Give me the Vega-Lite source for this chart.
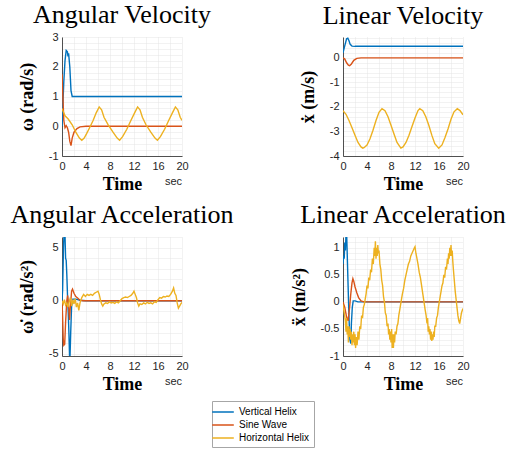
{
  "$schema": "https://vega.github.io/schema/vega-lite/v6.json",
  "padding": {"left": 9, "top": 2, "right": 5, "bottom": 5},
  "background": "white",
  "config": {
    "view": {"stroke": null},
    "title": {"font": "Liberation Serif", "fontSize": 26, "fontWeight": "normal", "color": "black", "anchor": "middle", "offset": 3},
    "axis": {
      "labelFont": "Liberation Sans", "labelFontSize": 11, "labelColor": "#262626",
      "titleFont": "Liberation Serif", "titleFontWeight": "bold", "titleColor": "black",
      "domainColor": "#262626", "domainWidth": 0.8, "ticks": false, "tickCount": 100,
      "grid": true, "gridColor": "#e4e4e4", "gridDash": [1, 1], "gridWidth": 1,
      "labelOverlap": false, "labelBound": false, "labelFlush": false
    }
  },
  "datasets": {
    "av": [
      {"s":"Vertical Helix","t":0,"v":0},{"s":"Vertical Helix","t":0.3,"v":1.5},{"s":"Vertical Helix","t":0.5,"v":2.2},{"s":"Vertical Helix","t":0.7,"v":2.55},{"s":"Vertical Helix","t":0.9,"v":2.5},{"s":"Vertical Helix","t":1.0,"v":2.35},{"s":"Vertical Helix","t":1.1,"v":2.45},{"s":"Vertical Helix","t":1.3,"v":2.0},{"s":"Vertical Helix","t":1.5,"v":1.2},{"s":"Vertical Helix","t":1.7,"v":1.0},{"s":"Vertical Helix","t":20,"v":1.0},
      {"s":"Sine Wave","t":0,"v":1.75},{"s":"Sine Wave","t":0.15,"v":1.0},{"s":"Sine Wave","t":0.3,"v":0.2},{"s":"Sine Wave","t":0.5,"v":-0.05},{"s":"Sine Wave","t":0.7,"v":0.02},{"s":"Sine Wave","t":0.9,"v":-0.05},{"s":"Sine Wave","t":1.1,"v":-0.2},{"s":"Sine Wave","t":1.3,"v":-0.5},{"s":"Sine Wave","t":1.5,"v":-0.65},{"s":"Sine Wave","t":1.7,"v":-0.4},{"s":"Sine Wave","t":2.0,"v":-0.2},{"s":"Sine Wave","t":2.5,"v":-0.08},{"s":"Sine Wave","t":3,"v":-0.02},{"s":"Sine Wave","t":4,"v":0},{"s":"Sine Wave","t":20,"v":0},
      {"s":"Horizontal Helix","t":0,"v":0.6},{"s":"Horizontal Helix","t":0.5,"v":0.35},{"s":"Horizontal Helix","t":1,"v":0.25},{"s":"Horizontal Helix","t":1.7,"v":0.05},{"s":"Horizontal Helix","t":2.3,"v":-0.2},{"s":"Horizontal Helix","t":2.9,"v":-0.4},{"s":"Horizontal Helix","t":3.3,"v":-0.47},{"s":"Horizontal Helix","t":3.7,"v":-0.4},{"s":"Horizontal Helix","t":4.1,"v":-0.25},{"s":"Horizontal Helix","t":4.6,"v":-0.05},{"s":"Horizontal Helix","t":5.2,"v":0.2},{"s":"Horizontal Helix","t":5.7,"v":0.45},{"s":"Horizontal Helix","t":6.2,"v":0.65},{"s":"Horizontal Helix","t":6.6,"v":0.55},{"s":"Horizontal Helix","t":7.0,"v":0.3},{"s":"Horizontal Helix","t":7.7,"v":0.05},{"s":"Horizontal Helix","t":8.5,"v":-0.2},{"s":"Horizontal Helix","t":9.2,"v":-0.4},{"s":"Horizontal Helix","t":9.6,"v":-0.47},{"s":"Horizontal Helix","t":10.1,"v":-0.35},{"s":"Horizontal Helix","t":10.8,"v":-0.1},{"s":"Horizontal Helix","t":11.5,"v":0.2},{"s":"Horizontal Helix","t":12.1,"v":0.45},{"s":"Horizontal Helix","t":12.6,"v":0.65},{"s":"Horizontal Helix","t":13.0,"v":0.55},{"s":"Horizontal Helix","t":13.4,"v":0.3},{"s":"Horizontal Helix","t":14.0,"v":0.05},{"s":"Horizontal Helix","t":14.8,"v":-0.2},{"s":"Horizontal Helix","t":15.5,"v":-0.4},{"s":"Horizontal Helix","t":15.9,"v":-0.47},{"s":"Horizontal Helix","t":16.4,"v":-0.35},{"s":"Horizontal Helix","t":17.1,"v":-0.1},{"s":"Horizontal Helix","t":17.8,"v":0.2},{"s":"Horizontal Helix","t":18.4,"v":0.45},{"s":"Horizontal Helix","t":18.9,"v":0.65},{"s":"Horizontal Helix","t":19.3,"v":0.55},{"s":"Horizontal Helix","t":19.7,"v":0.3},{"s":"Horizontal Helix","t":20,"v":0.2}
    ],
    "lv": [
      {"s":"Vertical Helix","t":0,"v":0.2},{"s":"Vertical Helix","t":0.3,"v":0.5},{"s":"Vertical Helix","t":0.6,"v":0.78},{"s":"Vertical Helix","t":0.8,"v":0.8},{"s":"Vertical Helix","t":1.0,"v":0.7},{"s":"Vertical Helix","t":1.2,"v":0.55},{"s":"Vertical Helix","t":1.5,"v":0.48},{"s":"Vertical Helix","t":2,"v":0.47},{"s":"Vertical Helix","t":20,"v":0.47},
      {"s":"Sine Wave","t":0,"v":0},{"s":"Sine Wave","t":0.3,"v":-0.05},{"s":"Sine Wave","t":0.6,"v":-0.2},{"s":"Sine Wave","t":0.9,"v":-0.3},{"s":"Sine Wave","t":1.1,"v":-0.32},{"s":"Sine Wave","t":1.4,"v":-0.25},{"s":"Sine Wave","t":1.8,"v":-0.1},{"s":"Sine Wave","t":2.3,"v":-0.02},{"s":"Sine Wave","t":3,"v":0},{"s":"Sine Wave","t":20,"v":0},
      {"s":"Horizontal Helix","t":0,"v":-2.15},{"s":"Horizontal Helix","t":0.5,"v":-2.3},{"s":"Horizontal Helix","t":1.0,"v":-2.55},{"s":"Horizontal Helix","t":1.5,"v":-2.85},{"s":"Horizontal Helix","t":2.0,"v":-3.15},{"s":"Horizontal Helix","t":2.5,"v":-3.45},{"s":"Horizontal Helix","t":3.0,"v":-3.63},{"s":"Horizontal Helix","t":3.3,"v":-3.68},{"s":"Horizontal Helix","t":3.5,"v":-3.66},{"s":"Horizontal Helix","t":4.0,"v":-3.55},{"s":"Horizontal Helix","t":4.5,"v":-3.3},{"s":"Horizontal Helix","t":5.0,"v":-2.95},{"s":"Horizontal Helix","t":5.5,"v":-2.55},{"s":"Horizontal Helix","t":6.0,"v":-2.22},{"s":"Horizontal Helix","t":6.5,"v":-2.07},{"s":"Horizontal Helix","t":7.0,"v":-2.15},{"s":"Horizontal Helix","t":7.5,"v":-2.4},{"s":"Horizontal Helix","t":8.0,"v":-2.75},{"s":"Horizontal Helix","t":8.5,"v":-3.1},{"s":"Horizontal Helix","t":9.0,"v":-3.45},{"s":"Horizontal Helix","t":9.65,"v":-3.68},{"s":"Horizontal Helix","t":10.0,"v":-3.63},{"s":"Horizontal Helix","t":10.5,"v":-3.45},{"s":"Horizontal Helix","t":11.0,"v":-3.15},{"s":"Horizontal Helix","t":11.5,"v":-2.8},{"s":"Horizontal Helix","t":12.0,"v":-2.45},{"s":"Horizontal Helix","t":12.5,"v":-2.15},{"s":"Horizontal Helix","t":12.8,"v":-2.07},{"s":"Horizontal Helix","t":13.3,"v":-2.15},{"s":"Horizontal Helix","t":13.8,"v":-2.4},{"s":"Horizontal Helix","t":14.3,"v":-2.75},{"s":"Horizontal Helix","t":14.8,"v":-3.15},{"s":"Horizontal Helix","t":15.3,"v":-3.5},{"s":"Horizontal Helix","t":15.95,"v":-3.68},{"s":"Horizontal Helix","t":16.5,"v":-3.55},{"s":"Horizontal Helix","t":17.0,"v":-3.25},{"s":"Horizontal Helix","t":17.5,"v":-2.9},{"s":"Horizontal Helix","t":18.0,"v":-2.5},{"s":"Horizontal Helix","t":18.5,"v":-2.2},{"s":"Horizontal Helix","t":19.05,"v":-2.07},{"s":"Horizontal Helix","t":19.5,"v":-2.15},{"s":"Horizontal Helix","t":20.0,"v":-2.32}
    ],
    "aa": [
      {"s":"Vertical Helix","t":0,"v":0},{"s":"Vertical Helix","t":0.1,"v":1},{"s":"Vertical Helix","t":0.25,"v":5},{"s":"Vertical Helix","t":0.35,"v":6.5},{"s":"Vertical Helix","t":0.5,"v":6.2},{"s":"Vertical Helix","t":0.6,"v":4.0},{"s":"Vertical Helix","t":0.7,"v":3.8},{"s":"Vertical Helix","t":0.8,"v":2.5},{"s":"Vertical Helix","t":0.95,"v":0},{"s":"Vertical Helix","t":1.05,"v":-1.2},{"s":"Vertical Helix","t":1.15,"v":-3},{"s":"Vertical Helix","t":1.3,"v":-6},{"s":"Vertical Helix","t":1.45,"v":-3},{"s":"Vertical Helix","t":1.6,"v":-0.5},{"s":"Vertical Helix","t":1.8,"v":0.15},{"s":"Vertical Helix","t":2.3,"v":0.15},{"s":"Vertical Helix","t":3,"v":0.05},{"s":"Vertical Helix","t":4,"v":0},{"s":"Vertical Helix","t":20,"v":0},
      {"s":"Sine Wave","t":0,"v":0},{"s":"Sine Wave","t":0.1,"v":-1.5},{"s":"Sine Wave","t":0.2,"v":-3.5},{"s":"Sine Wave","t":0.3,"v":-4.2},{"s":"Sine Wave","t":0.45,"v":-4.1},{"s":"Sine Wave","t":0.6,"v":-2},{"s":"Sine Wave","t":0.8,"v":0},{"s":"Sine Wave","t":0.95,"v":0.5},{"s":"Sine Wave","t":1.1,"v":-0.5},{"s":"Sine Wave","t":1.25,"v":-1.8},{"s":"Sine Wave","t":1.4,"v":-0.5},{"s":"Sine Wave","t":1.6,"v":0.9},{"s":"Sine Wave","t":1.75,"v":1.1},{"s":"Sine Wave","t":2.0,"v":0.7},{"s":"Sine Wave","t":2.3,"v":0.4},{"s":"Sine Wave","t":2.6,"v":0.25},{"s":"Sine Wave","t":3.0,"v":0.05},{"s":"Sine Wave","t":3.5,"v":0},{"s":"Sine Wave","t":20,"v":0},
      {"s":"Horizontal Helix","t":0,"v":0},{"s":"Horizontal Helix","t":0.2,"v":-0.3},{"s":"Horizontal Helix","t":0.4,"v":0.1},{"s":"Horizontal Helix","t":0.6,"v":-0.4},{"s":"Horizontal Helix","t":0.8,"v":-0.2},{"s":"Horizontal Helix","t":1.0,"v":-0.6},{"s":"Horizontal Helix","t":1.2,"v":-0.1},{"s":"Horizontal Helix","t":1.4,"v":0.3},{"s":"Horizontal Helix","t":1.6,"v":-0.5},{"s":"Horizontal Helix","t":1.8,"v":0.1},{"s":"Horizontal Helix","t":2.0,"v":-0.3},{"s":"Horizontal Helix","t":2.2,"v":0.2},{"s":"Horizontal Helix","t":2.4,"v":-0.6},{"s":"Horizontal Helix","t":2.6,"v":-0.2},{"s":"Horizontal Helix","t":2.8,"v":-0.9},{"s":"Horizontal Helix","t":3.0,"v":-0.2},{"s":"Horizontal Helix","t":3.3,"v":0.3},{"s":"Horizontal Helix","t":3.6,"v":0.6},{"s":"Horizontal Helix","t":3.9,"v":0.4},{"s":"Horizontal Helix","t":4.2,"v":0.6},{"s":"Horizontal Helix","t":4.5,"v":0.5},{"s":"Horizontal Helix","t":4.8,"v":0.6},{"s":"Horizontal Helix","t":5.1,"v":0.5},{"s":"Horizontal Helix","t":5.4,"v":0.7},{"s":"Horizontal Helix","t":5.7,"v":0.8},{"s":"Horizontal Helix","t":6.0,"v":0.9},{"s":"Horizontal Helix","t":6.2,"v":0.6},{"s":"Horizontal Helix","t":6.4,"v":0.1},{"s":"Horizontal Helix","t":6.6,"v":-0.3},{"s":"Horizontal Helix","t":6.8,"v":-0.5},{"s":"Horizontal Helix","t":7.0,"v":-0.3},{"s":"Horizontal Helix","t":7.3,"v":-0.2},{"s":"Horizontal Helix","t":7.6,"v":-0.25},{"s":"Horizontal Helix","t":7.9,"v":-0.1},{"s":"Horizontal Helix","t":8.2,"v":-0.2},{"s":"Horizontal Helix","t":8.5,"v":-0.15},{"s":"Horizontal Helix","t":8.8,"v":-0.25},{"s":"Horizontal Helix","t":9.1,"v":-0.1},{"s":"Horizontal Helix","t":9.4,"v":-0.2},{"s":"Horizontal Helix","t":9.7,"v":0.0},{"s":"Horizontal Helix","t":10.0,"v":0.2},{"s":"Horizontal Helix","t":10.3,"v":0.3},{"s":"Horizontal Helix","t":10.6,"v":0.35},{"s":"Horizontal Helix","t":10.9,"v":0.3},{"s":"Horizontal Helix","t":11.2,"v":0.4},{"s":"Horizontal Helix","t":11.5,"v":0.5},{"s":"Horizontal Helix","t":11.8,"v":0.7},{"s":"Horizontal Helix","t":12.0,"v":0.9},{"s":"Horizontal Helix","t":12.2,"v":0.6},{"s":"Horizontal Helix","t":12.4,"v":0.3},{"s":"Horizontal Helix","t":12.6,"v":-0.2},{"s":"Horizontal Helix","t":12.8,"v":-0.5},{"s":"Horizontal Helix","t":13.0,"v":-0.3},{"s":"Horizontal Helix","t":13.3,"v":-0.35},{"s":"Horizontal Helix","t":13.6,"v":-0.2},{"s":"Horizontal Helix","t":13.9,"v":-0.3},{"s":"Horizontal Helix","t":14.2,"v":-0.15},{"s":"Horizontal Helix","t":14.5,"v":-0.25},{"s":"Horizontal Helix","t":14.8,"v":-0.2},{"s":"Horizontal Helix","t":15.1,"v":-0.3},{"s":"Horizontal Helix","t":15.4,"v":-0.1},{"s":"Horizontal Helix","t":15.7,"v":-0.15},{"s":"Horizontal Helix","t":16.0,"v":0.1},{"s":"Horizontal Helix","t":16.3,"v":0.3},{"s":"Horizontal Helix","t":16.6,"v":0.25},{"s":"Horizontal Helix","t":16.9,"v":0.4},{"s":"Horizontal Helix","t":17.2,"v":0.35},{"s":"Horizontal Helix","t":17.5,"v":0.45},{"s":"Horizontal Helix","t":17.8,"v":0.4},{"s":"Horizontal Helix","t":18.1,"v":0.6},{"s":"Horizontal Helix","t":18.4,"v":0.9},{"s":"Horizontal Helix","t":18.6,"v":1.2},{"s":"Horizontal Helix","t":18.8,"v":0.7},{"s":"Horizontal Helix","t":19.0,"v":0.5},{"s":"Horizontal Helix","t":19.2,"v":-0.2},{"s":"Horizontal Helix","t":19.4,"v":-0.7},{"s":"Horizontal Helix","t":19.6,"v":-0.5},{"s":"Horizontal Helix","t":19.8,"v":-0.3},{"s":"Horizontal Helix","t":20,"v":-0.15}
    ],
    "la": [
      {"s":"Vertical Helix","t":0,"v":0.7},{"s":"Vertical Helix","t":0.1,"v":0.85},{"s":"Vertical Helix","t":0.2,"v":0.8},{"s":"Vertical Helix","t":0.3,"v":1.1},{"s":"Vertical Helix","t":0.4,"v":0.95},{"s":"Vertical Helix","t":0.5,"v":1.25},{"s":"Vertical Helix","t":0.6,"v":1.3},{"s":"Vertical Helix","t":0.7,"v":0.9},{"s":"Vertical Helix","t":0.85,"v":0.3},{"s":"Vertical Helix","t":1.0,"v":-0.3},{"s":"Vertical Helix","t":1.15,"v":-0.7},{"s":"Vertical Helix","t":1.3,"v":-0.77},{"s":"Vertical Helix","t":1.4,"v":-0.4},{"s":"Vertical Helix","t":1.55,"v":-0.1},{"s":"Vertical Helix","t":1.7,"v":0.02},{"s":"Vertical Helix","t":2.0,"v":0.02},{"s":"Vertical Helix","t":2.5,"v":0},{"s":"Vertical Helix","t":20,"v":0},
      {"s":"Sine Wave","t":0,"v":0},{"s":"Sine Wave","t":0.3,"v":-0.1},{"s":"Sine Wave","t":0.6,"v":-0.28},{"s":"Sine Wave","t":0.85,"v":-0.35},{"s":"Sine Wave","t":1.1,"v":-0.1},{"s":"Sine Wave","t":1.3,"v":0.15},{"s":"Sine Wave","t":1.5,"v":0.35},{"s":"Sine Wave","t":1.65,"v":0.43},{"s":"Sine Wave","t":1.8,"v":0.38},{"s":"Sine Wave","t":2.0,"v":0.28},{"s":"Sine Wave","t":2.3,"v":0.17},{"s":"Sine Wave","t":2.6,"v":0.08},{"s":"Sine Wave","t":3.0,"v":0.02},{"s":"Sine Wave","t":3.5,"v":0},{"s":"Sine Wave","t":20,"v":0},
      {"s":"Horizontal Helix","t":0,"v":-0.05},{"s":"Horizontal Helix","t":0.2,"v":-0.2},{"s":"Horizontal Helix","t":0.4,"v":-0.35},{"s":"Horizontal Helix","t":0.5,"v":-0.55},{"s":"Horizontal Helix","t":0.6,"v":-0.3},{"s":"Horizontal Helix","t":0.7,"v":-0.6},{"s":"Horizontal Helix","t":0.8,"v":-0.45},{"s":"Horizontal Helix","t":0.9,"v":-0.75},{"s":"Horizontal Helix","t":1.0,"v":-0.45},{"s":"Horizontal Helix","t":1.1,"v":-0.65},{"s":"Horizontal Helix","t":1.2,"v":-0.5},{"s":"Horizontal Helix","t":1.3,"v":-0.7},{"s":"Horizontal Helix","t":1.4,"v":-0.55},{"s":"Horizontal Helix","t":1.5,"v":-0.8},{"s":"Horizontal Helix","t":1.6,"v":-0.6},{"s":"Horizontal Helix","t":1.7,"v":-0.75},{"s":"Horizontal Helix","t":1.8,"v":-0.55},{"s":"Horizontal Helix","t":1.9,"v":-0.8},{"s":"Horizontal Helix","t":2.0,"v":-0.6},{"s":"Horizontal Helix","t":2.1,"v":-0.85},{"s":"Horizontal Helix","t":2.2,"v":-0.65},{"s":"Horizontal Helix","t":2.35,"v":-0.8},{"s":"Horizontal Helix","t":2.5,"v":-0.55},{"s":"Horizontal Helix","t":2.65,"v":-0.7},{"s":"Horizontal Helix","t":2.8,"v":-0.45},{"s":"Horizontal Helix","t":2.95,"v":-0.5},{"s":"Horizontal Helix","t":3.1,"v":-0.25},{"s":"Horizontal Helix","t":3.25,"v":-0.3},{"s":"Horizontal Helix","t":3.4,"v":-0.1},{"s":"Horizontal Helix","t":3.55,"v":-0.05},{"s":"Horizontal Helix","t":3.7,"v":0.05},{"s":"Horizontal Helix","t":3.85,"v":0.15},{"s":"Horizontal Helix","t":4.0,"v":0.3},{"s":"Horizontal Helix","t":4.15,"v":0.25},{"s":"Horizontal Helix","t":4.3,"v":0.45},{"s":"Horizontal Helix","t":4.45,"v":0.4},{"s":"Horizontal Helix","t":4.6,"v":0.6},{"s":"Horizontal Helix","t":4.75,"v":0.55},{"s":"Horizontal Helix","t":4.9,"v":0.8},{"s":"Horizontal Helix","t":5.05,"v":0.7},{"s":"Horizontal Helix","t":5.2,"v":1.0},{"s":"Horizontal Helix","t":5.3,"v":0.85},{"s":"Horizontal Helix","t":5.4,"v":1.12},{"s":"Horizontal Helix","t":5.5,"v":0.8},{"s":"Horizontal Helix","t":5.6,"v":1.0},{"s":"Horizontal Helix","t":5.7,"v":0.85},{"s":"Horizontal Helix","t":5.8,"v":1.05},{"s":"Horizontal Helix","t":5.9,"v":0.9},{"s":"Horizontal Helix","t":6.0,"v":0.95},{"s":"Horizontal Helix","t":6.15,"v":0.7},{"s":"Horizontal Helix","t":6.3,"v":0.6},{"s":"Horizontal Helix","t":6.45,"v":0.4},{"s":"Horizontal Helix","t":6.6,"v":0.3},{"s":"Horizontal Helix","t":6.75,"v":0.1},{"s":"Horizontal Helix","t":6.9,"v":0.0},{"s":"Horizontal Helix","t":7.05,"v":-0.2},{"s":"Horizontal Helix","t":7.2,"v":-0.25},{"s":"Horizontal Helix","t":7.35,"v":-0.45},{"s":"Horizontal Helix","t":7.5,"v":-0.4},{"s":"Horizontal Helix","t":7.6,"v":-0.6},{"s":"Horizontal Helix","t":7.7,"v":-0.5},{"s":"Horizontal Helix","t":7.8,"v":-0.7},{"s":"Horizontal Helix","t":7.9,"v":-0.55},{"s":"Horizontal Helix","t":8.0,"v":-0.75},{"s":"Horizontal Helix","t":8.1,"v":-0.5},{"s":"Horizontal Helix","t":8.2,"v":-0.85},{"s":"Horizontal Helix","t":8.3,"v":-0.6},{"s":"Horizontal Helix","t":8.4,"v":-0.85},{"s":"Horizontal Helix","t":8.5,"v":-0.6},{"s":"Horizontal Helix","t":8.6,"v":-0.75},{"s":"Horizontal Helix","t":8.7,"v":-0.55},{"s":"Horizontal Helix","t":8.85,"v":-0.6},{"s":"Horizontal Helix","t":9.0,"v":-0.45},{"s":"Horizontal Helix","t":9.15,"v":-0.4},{"s":"Horizontal Helix","t":9.3,"v":-0.25},{"s":"Horizontal Helix","t":9.45,"v":-0.15},{"s":"Horizontal Helix","t":9.6,"v":-0.05},{"s":"Horizontal Helix","t":9.75,"v":0.05},{"s":"Horizontal Helix","t":9.9,"v":0.15},{"s":"Horizontal Helix","t":10.1,"v":0.25},{"s":"Horizontal Helix","t":10.3,"v":0.4},{"s":"Horizontal Helix","t":10.5,"v":0.5},{"s":"Horizontal Helix","t":10.7,"v":0.6},{"s":"Horizontal Helix","t":10.9,"v":0.7},{"s":"Horizontal Helix","t":11.1,"v":0.75},{"s":"Horizontal Helix","t":11.3,"v":0.85},{"s":"Horizontal Helix","t":11.5,"v":0.9},{"s":"Horizontal Helix","t":11.7,"v":0.95},{"s":"Horizontal Helix","t":11.9,"v":1.0},{"s":"Horizontal Helix","t":12.0,"v":1.02},{"s":"Horizontal Helix","t":12.15,"v":0.9},{"s":"Horizontal Helix","t":12.3,"v":0.82},{"s":"Horizontal Helix","t":12.5,"v":0.7},{"s":"Horizontal Helix","t":12.7,"v":0.55},{"s":"Horizontal Helix","t":12.9,"v":0.45},{"s":"Horizontal Helix","t":13.1,"v":0.3},{"s":"Horizontal Helix","t":13.3,"v":0.15},{"s":"Horizontal Helix","t":13.5,"v":0.0},{"s":"Horizontal Helix","t":13.7,"v":-0.15},{"s":"Horizontal Helix","t":13.85,"v":-0.25},{"s":"Horizontal Helix","t":14.0,"v":-0.4},{"s":"Horizontal Helix","t":14.1,"v":-0.3},{"s":"Horizontal Helix","t":14.2,"v":-0.55},{"s":"Horizontal Helix","t":14.3,"v":-0.45},{"s":"Horizontal Helix","t":14.4,"v":-0.6},{"s":"Horizontal Helix","t":14.5,"v":-0.5},{"s":"Horizontal Helix","t":14.6,"v":-0.7},{"s":"Horizontal Helix","t":14.7,"v":-0.55},{"s":"Horizontal Helix","t":14.8,"v":-0.72},{"s":"Horizontal Helix","t":14.9,"v":-0.6},{"s":"Horizontal Helix","t":15.0,"v":-0.7},{"s":"Horizontal Helix","t":15.1,"v":-0.55},{"s":"Horizontal Helix","t":15.2,"v":-0.65},{"s":"Horizontal Helix","t":15.3,"v":-0.45},{"s":"Horizontal Helix","t":15.45,"v":-0.45},{"s":"Horizontal Helix","t":15.6,"v":-0.3},{"s":"Horizontal Helix","t":15.75,"v":-0.25},{"s":"Horizontal Helix","t":15.9,"v":-0.1},{"s":"Horizontal Helix","t":16.05,"v":0.0},{"s":"Horizontal Helix","t":16.2,"v":0.1},{"s":"Horizontal Helix","t":16.35,"v":0.2},{"s":"Horizontal Helix","t":16.5,"v":0.3},{"s":"Horizontal Helix","t":16.65,"v":0.35},{"s":"Horizontal Helix","t":16.8,"v":0.5},{"s":"Horizontal Helix","t":16.95,"v":0.45},{"s":"Horizontal Helix","t":17.1,"v":0.65},{"s":"Horizontal Helix","t":17.25,"v":0.6},{"s":"Horizontal Helix","t":17.4,"v":0.8},{"s":"Horizontal Helix","t":17.5,"v":0.7},{"s":"Horizontal Helix","t":17.6,"v":0.9},{"s":"Horizontal Helix","t":17.7,"v":0.8},{"s":"Horizontal Helix","t":17.8,"v":1.0},{"s":"Horizontal Helix","t":17.9,"v":0.85},{"s":"Horizontal Helix","t":18.0,"v":1.05},{"s":"Horizontal Helix","t":18.1,"v":0.85},{"s":"Horizontal Helix","t":18.2,"v":0.95},{"s":"Horizontal Helix","t":18.3,"v":0.75},{"s":"Horizontal Helix","t":18.4,"v":0.6},{"s":"Horizontal Helix","t":18.55,"v":0.4},{"s":"Horizontal Helix","t":18.7,"v":0.2},{"s":"Horizontal Helix","t":18.85,"v":0.05},{"s":"Horizontal Helix","t":19.0,"v":-0.1},{"s":"Horizontal Helix","t":19.15,"v":-0.25},{"s":"Horizontal Helix","t":19.3,"v":-0.35},{"s":"Horizontal Helix","t":19.45,"v":-0.4},{"s":"Horizontal Helix","t":19.6,"v":-0.3},{"s":"Horizontal Helix","t":19.75,"v":-0.2},{"s":"Horizontal Helix","t":19.9,"v":-0.15},{"s":"Horizontal Helix","t":20.0,"v":-0.12}
    ]
  },
  "columns": 2,
  "spacing": {"row": 81, "column": 161},
  "bounds": "flush",
  "concat": [
    {
      "title": "Angular Velocity",
      "width": 120, "height": 119,
      "layer": [
        {
          "data": {"name": "av"},
          "mark": {"type": "line", "clip": true, "strokeWidth": 1.4},
          "encoding": {
            "x": {"field": "t", "type": "quantitative", "scale": {"domain": [0, 20], "nice": false},
              "axis": {"title": "Time", "titleFontSize": 18, "titlePadding": 4, "labelPadding": 4, "tickCount": 100, "values": [0,2,4,6,8,10,12,14,16,18,20],
                "labelExpr": "datum.value % 4 === 0 ? toString(datum.value) : ''"}},
            "y": {"field": "v", "type": "quantitative", "scale": {"domain": [-1, 3], "nice": false, "zero": false},
              "axis": {"title": "ω (rad/s)", "titleFontSize": 18, "titlePadding": 12, "labelPadding": 4, "tickCount": 100,
                "values": [-1,-0.8,-0.6,-0.4,-0.2,0,0.2,0.4,0.6,0.8,1,1.2,1.4,1.6,1.8,2,2.2,2.4,2.6,2.8,3],
                "labelExpr": "abs(datum.value - round(datum.value)) < 0.001 ? toString(round(datum.value)) : ''"}},
            "color": {"field": "s", "type": "nominal",
              "scale": {"domain": ["Vertical Helix", "Sine Wave", "Horizontal Helix"], "range": ["#0072BD", "#D95319", "#EDB120"]},
              "legend": {"orient": "none", "legendX": 150, "legendY": 364, "title": null, "symbolType": "M-1.8,0H1.8", "symbolSize": 144, "symbolStrokeWidth": 1.5,
                "labelFont": "Liberation Sans", "labelFontSize": 10, "labelColor": "#000000", "strokeColor": "#a6a6a6", "fillColor": "white",
                "padding": 4, "rowPadding": 1, "labelOffset": 9}}
          }
        },
        {
          "data": {"values": [{}]},
          "mark": {"type": "text", "text": "sec", "align": "right", "baseline": "middle", "dy": 26, "font": "Liberation Sans", "fontSize": 11, "color": "#262626"},
          "encoding": {"x": {"datum": 20, "type": "quantitative"}, "y": {"datum": -1, "type": "quantitative"}}
        }
      ]
    },
    {
      "title": "Linear Velocity",
      "width": 120, "height": 119,
      "layer": [
        {
          "data": {"name": "lv"},
          "mark": {"type": "line", "clip": true, "strokeWidth": 1.4},
          "encoding": {
            "x": {"field": "t", "type": "quantitative", "scale": {"domain": [0, 20], "nice": false},
              "axis": {"title": "Time", "titleFontSize": 18, "titlePadding": 4, "labelPadding": 4, "tickCount": 100, "values": [0,2,4,6,8,10,12,14,16,18,20],
                "labelExpr": "datum.value % 4 === 0 ? toString(datum.value) : ''"}},
            "y": {"field": "v", "type": "quantitative", "scale": {"domain": [-4, 0.85], "nice": false, "zero": false},
              "axis": {"title": "ẋ (m/s)", "titleFontSize": 18, "titlePadding": 12, "labelPadding": 4, "tickCount": 100,
                "values": [-4,-3.8,-3.6,-3.4,-3.2,-3,-2.8,-2.6,-2.4,-2.2,-2,-1.8,-1.6,-1.4,-1.2,-1,-0.8,-0.6,-0.4,-0.2,0,0.2,0.4,0.6,0.8],
                "labelExpr": "abs(datum.value - round(datum.value)) < 0.001 ? toString(round(datum.value)) : ''"}},
            "color": {"field": "s", "type": "nominal",
              "scale": {"domain": ["Vertical Helix", "Sine Wave", "Horizontal Helix"], "range": ["#0072BD", "#D95319", "#EDB120"]},
              "legend": {"orient": "none", "legendX": 150, "legendY": 364, "title": null, "symbolType": "M-1.8,0H1.8", "symbolSize": 144, "symbolStrokeWidth": 1.5,
                "labelFont": "Liberation Sans", "labelFontSize": 10, "labelColor": "#000000", "strokeColor": "#a6a6a6", "fillColor": "white",
                "padding": 4, "rowPadding": 1, "labelOffset": 9}}
          }
        },
        {
          "data": {"values": [{}]},
          "mark": {"type": "text", "text": "sec", "align": "right", "baseline": "middle", "dy": 26, "font": "Liberation Sans", "fontSize": 11, "color": "#262626"},
          "encoding": {"x": {"datum": 20, "type": "quantitative"}, "y": {"datum": -4, "type": "quantitative"}}
        }
      ]
    },
    {
      "title": "Angular Acceleration",
      "width": 120, "height": 119,
      "layer": [
        {
          "data": {"name": "aa"},
          "mark": {"type": "line", "clip": true, "strokeWidth": 1.4},
          "encoding": {
            "x": {"field": "t", "type": "quantitative", "scale": {"domain": [0, 20], "nice": false},
              "axis": {"title": "Time", "titleFontSize": 18, "titlePadding": 4, "labelPadding": 4, "tickCount": 100, "values": [0,2,4,6,8,10,12,14,16,18,20],
                "labelExpr": "datum.value % 4 === 0 ? toString(datum.value) : ''"}},
            "y": {"field": "v", "type": "quantitative", "scale": {"domain": [-5.2, 6], "nice": false, "zero": false},
              "axis": {"title": "ω̇ (rad/s²)", "titleFontSize": 18, "titlePadding": 12, "labelPadding": 4, "tickCount": 100,
                "values": [-5,-4,-3,-2,-1,0,1,2,3,4,5,6],
                "labelExpr": "datum.value % 5 === 0 ? toString(datum.value) : ''"}},
            "color": {"field": "s", "type": "nominal",
              "scale": {"domain": ["Vertical Helix", "Sine Wave", "Horizontal Helix"], "range": ["#0072BD", "#D95319", "#EDB120"]},
              "legend": {"orient": "none", "legendX": 150, "legendY": 364, "title": null, "symbolType": "M-1.8,0H1.8", "symbolSize": 144, "symbolStrokeWidth": 1.5,
                "labelFont": "Liberation Sans", "labelFontSize": 10, "labelColor": "#000000", "strokeColor": "#a6a6a6", "fillColor": "white",
                "padding": 4, "rowPadding": 1, "labelOffset": 9}}
          }
        },
        {
          "data": {"values": [{}]},
          "mark": {"type": "text", "text": "sec", "align": "right", "baseline": "middle", "dy": 26, "font": "Liberation Sans", "fontSize": 11, "color": "#262626"},
          "encoding": {"x": {"datum": 20, "type": "quantitative"}, "y": {"datum": -5.2, "type": "quantitative"}}
        }
      ]
    },
    {
      "title": "Linear Acceleration",
      "width": 120, "height": 119,
      "layer": [
        {
          "data": {"name": "la"},
          "mark": {"type": "line", "clip": true, "strokeWidth": 1.4},
          "encoding": {
            "x": {"field": "t", "type": "quantitative", "scale": {"domain": [0, 20], "nice": false},
              "axis": {"title": "Time", "titleFontSize": 18, "titlePadding": 4, "labelPadding": 4, "tickCount": 100, "values": [0,2,4,6,8,10,12,14,16,18,20],
                "labelExpr": "datum.value % 4 === 0 ? toString(datum.value) : ''"}},
            "y": {"field": "v", "type": "quantitative", "scale": {"domain": [-1, 1.2], "nice": false, "zero": false},
              "axis": {"title": "ẍ (m/s²)", "titleFontSize": 18, "titlePadding": 12, "labelPadding": 4, "tickCount": 100,
                "values": [-1,-0.9,-0.8,-0.7,-0.6,-0.5,-0.4,-0.3,-0.2,-0.1,0,0.1,0.2,0.3,0.4,0.5,0.6,0.7,0.8,0.9,1,1.1,1.2],
                "labelExpr": "abs(datum.value * 2 - round(datum.value * 2)) < 0.001 ? toString(datum.value) : ''"}},
            "color": {"field": "s", "type": "nominal",
              "scale": {"domain": ["Vertical Helix", "Sine Wave", "Horizontal Helix"], "range": ["#0072BD", "#D95319", "#EDB120"]},
              "legend": {"orient": "none", "legendX": 150, "legendY": 364, "title": null, "symbolType": "M-1.8,0H1.8", "symbolSize": 144, "symbolStrokeWidth": 1.5,
                "labelFont": "Liberation Sans", "labelFontSize": 10, "labelColor": "#000000", "strokeColor": "#a6a6a6", "fillColor": "white",
                "padding": 4, "rowPadding": 1, "labelOffset": 9}}
          }
        },
        {
          "data": {"values": [{}]},
          "mark": {"type": "text", "text": "sec", "align": "right", "baseline": "middle", "dy": 26, "font": "Liberation Sans", "fontSize": 11, "color": "#262626"},
          "encoding": {"x": {"datum": 20, "type": "quantitative"}, "y": {"datum": -1, "type": "quantitative"}}
        }
      ]
    }
  ]
}
